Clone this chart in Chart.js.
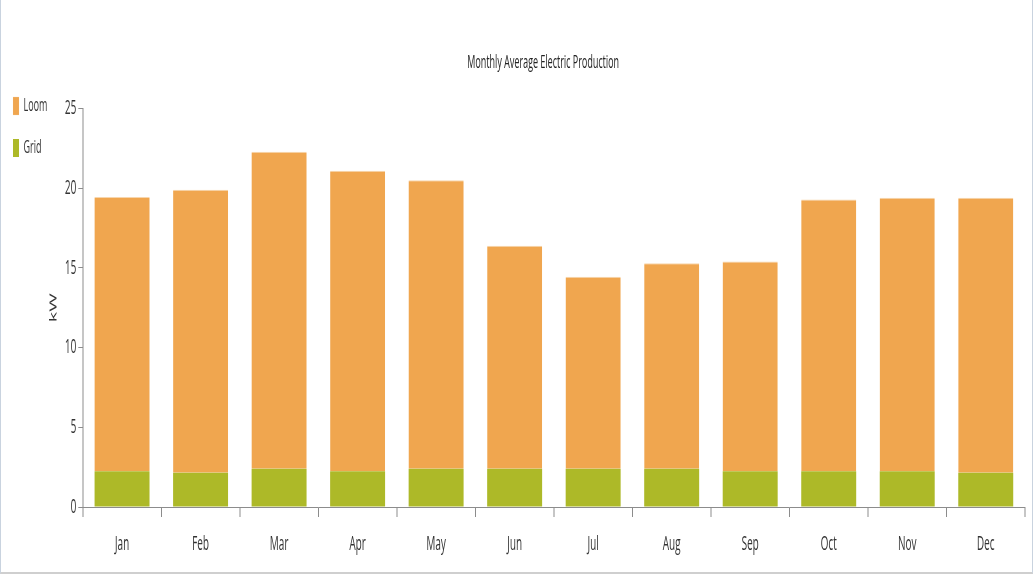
<!DOCTYPE html>
<html>
<head>
<meta charset="utf-8">
<title>Monthly Average Electric Production</title>
<script src="https://cdn.jsdelivr.net/npm/chart.js@4/dist/chart.umd.min.js"></script>
<style>
  html, body { margin: 0; padding: 0; background: #fff; }
  #frame {
    position: relative;
    width: 1033px;
    height: 574px;
    overflow: hidden;
    box-sizing: border-box;
    border-left: 1px solid #c9d3df;
    border-right: 1px solid #c9d3df;
    border-bottom: 2px solid #cfcfcf;
  }
  /* the chart is laid out twice as wide and squeezed back, which gives the narrow lettering */
  #wrap {
    position: absolute;
    left: 0;
    top: 0;
    width: 2066px;
    height: 574px;
    transform: scaleX(0.5);
    transform-origin: 0 0;
  }
</style>
</head>
<body>
<div id="frame">
  <div id="wrap"><canvas id="productionChart"></canvas></div>
</div>
<script>
const months = ['Jan', 'Feb', 'Mar', 'Apr', 'May', 'Jun', 'Jul', 'Aug', 'Sep', 'Oct', 'Nov', 'Dec'];
const gridKw = [2.25, 2.15, 2.4, 2.25, 2.4, 2.4, 2.4, 2.4, 2.25, 2.25, 2.25, 2.15];
const loomKw = [17.2, 17.75, 19.9, 18.85, 18.1, 14.0, 12.05, 12.9, 13.15, 17.05, 17.15, 17.25];
const yTicks = { min: 0, max: 25, step: 5 };

const axisGray = '#8c8c8c';
const textGray = '#333';

Chart.defaults.font.family = '"Open Sans", "Noto Sans", sans-serif';
Chart.defaults.font.size = 20;
Chart.defaults.color = textGray;

// centre the title over the space to the right of the legend
const titleBesideLegend = {
    id: 'titleBesideLegend',
    afterLayout(chart) {
        if (chart.titleBlock && chart.legend) {
            chart.titleBlock.left = chart.legend.right;
            chart.titleBlock.right = chart.width;
        }
    }
};

const ctx = document.getElementById('productionChart').getContext('2d');
const chart = new Chart(ctx, {
    type: 'bar',
    data: {
        labels: months,
        datasets: [{
            label: 'Grid',
            data: gridKw,
            backgroundColor: '#adb928',
            borderWidth: 0
        }, {
            label: 'Loom',
            data: loomKw,
            backgroundColor: '#f0a64f',
            borderColor: '#f8d6ad',
            borderWidth: { top: 1, left: 0, right: 0, bottom: 0 }
        }]
    },
    options: {
        responsive: true,
        maintainAspectRatio: false,
        animation: false,
        barPercentage: 0.7,
        categoryPercentage: 1.0,
        layout: {
            padding: { left: 0, right: 18, top: 0, bottom: 3 }
        },
        scales: {
            x: {
                stacked: true,
                grid: {
                    drawOnChartArea: false,
                    tickLength: 10,
                    lineWidth: 2,
                    color: axisGray
                },
                border: { color: axisGray, width: 1 },
                ticks: { padding: 15, color: textGray }
            },
            y: {
                stacked: true,
                min: yTicks.min,
                max: yTicks.max,
                grid: {
                    drawOnChartArea: false,
                    tickLength: 9,
                    lineWidth: 1,
                    color: axisGray
                },
                border: { color: axisGray, width: 2 },
                ticks: { stepSize: yTicks.step, padding: 4, color: textGray },
                title: {
                    display: true,
                    text: 'kW',
                    color: textGray,
                    // pulled in tight against the legend
                    padding: { top: -9, bottom: 6 }
                }
            }
        },
        plugins: {
            title: {
                display: true,
                text: 'Monthly Average Electric Production',
                color: '#222',
                font: { size: 18, weight: 'normal' },
                padding: { top: 52, bottom: 35 }
            },
            legend: {
                position: 'left',
                align: 'start',
                reverse: true,
                title: {
                    display: true,
                    text: '',
                    font: { size: 18, lineHeight: 1 },
                    padding: { top: 55, bottom: 0 }
                },
                labels: {
                    boxWidth: 12,
                    boxHeight: 18,
                    padding: 24,
                    color: textGray,
                    font: { size: 18 }
                }
            },
            tooltip: { enabled: false }
        }
    },
    plugins: [titleBesideLegend]
});
</script>
</body>
</html>
